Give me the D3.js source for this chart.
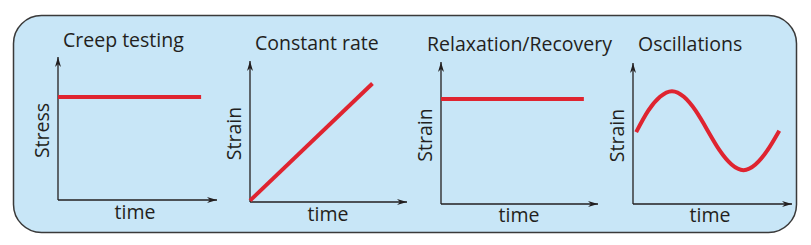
<!DOCTYPE html>
<html>
<head>
<meta charset="utf-8">
<script src="https://cdn.jsdelivr.net/npm/d3@7"></script>
<style>
  html, body { margin: 0; padding: 0; background: #fff; }
  svg text { font-family: "Open Sans", "Noto Sans", sans-serif; fill: #231f20; }
</style>
</head>
<body>
<div id="chart"></div>
<script>
// panel titles and axis names
const titles = ["Creep testing", "Constant rate", "Relaxation/Recovery", "Oscillations"];
const yLabels = ["Stress", "Strain", "Strain", "Strain"];
const xLabel = "time";

// curves, time and value on a 0..10 scale per panel
const creepT = [0, 9];
const creepV = [7.2, 7.2];
const rateT = [0, 7.8];
const rateV = [0.1, 8.4];
const relaxT = [0, 9.1];
const relaxV = [7.4, 7.4];
const oscT = [0.2, 0.95, 1.7, 2.45, 3.2, 3.95, 4.7, 5.45, 6.2, 6.95, 7.7, 8.45, 9.2];
const oscV = [5.1, 6.6, 7.6, 8.0, 7.6, 6.6, 5.2, 3.8, 2.8, 2.4, 2.8, 3.8, 5.2];

const seriesT = [creepT, rateT, relaxT, oscT];
const seriesV = [creepV, rateV, relaxV, oscV];

const W = 811, H = 245;
const FS = 19.5;
const svg = d3.select("#chart").append("svg")
  .attr("width", W).attr("height", H);

// arrowhead
svg.append("defs").append("marker")
  .attr("id", "arrow")
  .attr("viewBox", "0 0 10 6")
  .attr("refX", 10).attr("refY", 3)
  .attr("markerWidth", 10).attr("markerHeight", 6)
  .attr("markerUnits", "userSpaceOnUse")
  .attr("orient", "auto")
  .append("path")
  .attr("d", "M0,0 L10,3 L0,6 L3,3 Z")
  .attr("fill", "#231f20");

// background box
svg.append("rect")
  .attr("x", 13.5).attr("y", 15.5)
  .attr("width", 783).attr("height", 217)
  .attr("rx", 28).attr("ry", 28)
  .attr("fill", "#c8e6f7")
  .attr("stroke", "#3a3a3a")
  .attr("stroke-width", 1.5);

// pixel frames for each panel: axis origin, x tip, y tip
const frames = [
  { x0: 58, x1: 217, y0: 200, y1: 57, titleX: 63, titleY: 47, yl: 42, tx: 135, ty: 219 },
  { x0: 250, x1: 407, y0: 202, y1: 61, titleX: 255, titleY: 50, yl: 234, tx: 328, ty: 221 },
  { x0: 441, x1: 598, y0: 204, y1: 62, titleX: 427, titleY: 51, yl: 425, tx: 519, ty: 222 },
  { x0: 633, x1: 792, y0: 204, y1: 63, titleX: 638, titleY: 51, yl: 617, tx: 710, ty: 222 }
];

frames.forEach((f, i) => {
  const x = d3.scaleLinear().domain([0, 10]).range([f.x0, f.x1]);
  const y = d3.scaleLinear().domain([0, 10]).range([f.y0, f.y1]);
  const g = svg.append("g");

  // axes
  g.append("line")
    .attr("x1", x(0)).attr("y1", y(0)).attr("x2", x(0)).attr("y2", y(10))
    .attr("stroke", "#231f20").attr("stroke-width", 1.3)
    .attr("marker-end", "url(#arrow)");
  g.append("line")
    .attr("x1", x(0)).attr("y1", y(0)).attr("x2", x(10)).attr("y2", y(0))
    .attr("stroke", "#231f20").attr("stroke-width", 1.3)
    .attr("marker-end", "url(#arrow)");

  // curve
  const pts = seriesT[i].map((t, k) => [t, seriesV[i][k]]);
  const line = d3.line()
    .x(d => x(d[0])).y(d => y(d[1]))
    .curve(i === 3 ? d3.curveNatural : d3.curveLinear);
  g.append("path")
    .attr("d", line(pts))
    .attr("fill", "none")
    .attr("stroke", "#df2430")
    .attr("stroke-width", 4);

  // texts
  g.append("text")
    .attr("x", f.titleX).attr("y", f.titleY)
    .attr("font-size", FS)
    .text(titles[i]);
  g.append("text")
    .attr("transform", `translate(${f.yl + 7},${(f.y0 + f.y1) / 2 + 2}) rotate(-90)`)
    .attr("text-anchor", "middle")
    .attr("font-size", FS)
    .text(yLabels[i]);
  g.append("text")
    .attr("x", f.tx).attr("y", f.ty)
    .attr("text-anchor", "middle")
    .attr("font-size", FS)
    .text(xLabel);
});
</script>
</body>
</html>
